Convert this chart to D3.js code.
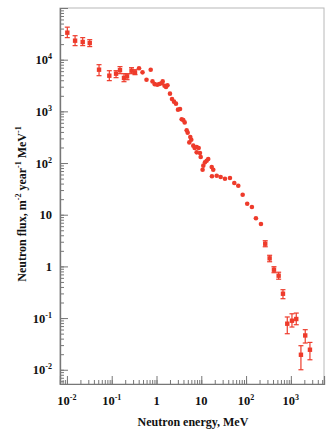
<!DOCTYPE html>
<html>
<head>
<meta charset="utf-8">
<script src="https://cdn.jsdelivr.net/npm/d3@7"></script>
<style>
  html, body { margin: 0; padding: 0; background: #fff; }
  svg { display: block; }
  text { font-family: "Liberation Serif", "Times New Roman", serif; font-weight: bold; fill: #111; }
</style>
</head>
<body>
<svg id="chart" width="332" height="436"></svg>
<script>
// ---- data ----
const energy = [0.0102, 0.0152, 0.0225, 0.0323, 0.0521, 0.0884, 0.125, 0.153, 0.188, 0.220, 0.277, 0.331,
  0.407, 0.487, 0.598, 0.742, 0.814, 0.912, 1.04, 1.155, 1.29, 1.375, 1.51, 1.63, 1.76, 2.0, 2.22, 2.46, 2.72,
  3.02, 3.35, 3.65, 3.96, 4.26, 4.72, 4.97, 5.40, 5.68, 5.98, 6.63, 7.12, 7.89, 7.89, 8.75, 9.35, 9.70, 10.7,
  11.1, 12.1, 13.2, 14.3, 17.1, 18.5, 17.3, 22.1, 27.1, 33.8, 43.7, 54.6, 67.0, 84.0, 106, 135, 166, 215,
  268, 336, 420, 534, 667, 832, 1059, 1321, 1680, 2096, 2670];
const flux = [33300, 23300, 22000, 21000, 6400, 4900, 5360, 6270, 4430, 4760, 6120, 5680,
  6840, 5680, 4100, 6400, 3800, 3360, 3280, 3390, 3510, 3800, 3140, 2960, 3210, 2200, 1730, 1540, 1410,
  1080, 1110, 705, 680, 612, 429, 387, 251, 319, 283, 217, 195, 204, 161, 195, 156, 131, 74,
  89, 103, 111, 120, 84, 74, 55.6, 56.9, 53.7, 49.8, 51.3, 41.1, 36.4, 24.4, 16.3, 14.1, 8.55, 6.6,
  2.75, 1.43, 0.863, 0.661, 0.296, 0.0778, 0.0889, 0.0959, 0.0195, 0.0461, 0.0244];
const fluxHigh = [42600, 29100, 26700, 24400, 8000, 6120, 6120, 7330, 5360, 5360, 7000, 6400,
  null, null, null, null, null, null, null, null, null, null, null, null, null, null, null, null, null,
  null, null, null, null, null, null, null, null, null, null, null, null, null, null, null, null, null, null,
  null, null, null, null, null, null, null, null, null, null, null, null, null, null, null, null, null, null,
  3.14, 1.64, 0.986, 0.771, 0.354, 0.105, 0.121, 0.125, 0.0292, 0.0596, 0.0338];
const fluxLow = [26700, 18700, 18700, 17900, 4900, 3930, 4490, 5360, 3750, 4100, 5360, 5130,
  null, null, null, null, null, null, null, null, null, null, null, null, null, null, null, null, null,
  null, null, null, null, null, null, null, null, null, null, null, null, null, null, null, null, null, null,
  null, null, null, null, null, null, null, null, null, null, null, null, null, null, null, null, null, null,
  2.40, 1.23, 0.755, 0.565, 0.237, 0.0498, 0.0671, 0.0743, 0.0100, 0.0329, 0.0156];

const xTickValues = [0.01, 0.1, 1, 10, 100, 1000];
const xTickBase = ["10", "10", "1", "10", "10", "10"];
const xTickExp = ["-2", "-1", "", "", "2", "3"];
const yTickValues = [0.01, 0.1, 1, 10, 100, 1000, 10000];
const yTickBase = ["10", "10", "1", "10", "10", "10", "10"];
const yTickExp = ["-2", "-1", "", "", "2", "3", "4"];
const xTitle = "Neutron energy, MeV";

(function () {
// ---- layout ----
const pL = 60, pR = 324, pT = 8, pB = 384;
const red = "#ee3b2b";
const svg = d3.select("#chart");

const x = d3.scaleLog().domain([0.007, 5500]).range([pL, pR]);
const y = d3.scaleLog().domain([0.0053, 1e5]).range([pB, pT]);

// frame
svg.append("rect").attr("x", pL).attr("y", pT).attr("width", pR - pL).attr("height", pB - pT)
  .attr("fill", "none").attr("stroke", "#b8b8b8").attr("stroke-width", 1);

function minorTicks(scale) {
  const [a, b] = scale.domain();
  const out = [];
  for (let e = Math.floor(Math.log10(a)); e <= Math.ceil(Math.log10(b)); e++) {
    for (let m = 1; m <= 9; m++) {
      const v = m * Math.pow(10, e);
      if (v >= a && v <= b) out.push(v);
    }
  }
  return out;
}

// axes with inward ticks
svg.append("g").attr("transform", `translate(${pL},0)`)
  .call(d3.axisLeft(y).tickValues(minorTicks(y)).tickSize(-4).tickFormat(""));
svg.append("g").attr("transform", `translate(${pL},0)`)
  .call(d3.axisLeft(y).tickValues(yTickValues.concat([1e5])).tickSize(-8).tickFormat(""));
svg.append("g").attr("transform", `translate(0,${pB})`)
  .call(d3.axisBottom(x).tickValues(minorTicks(x)).tickSize(-4).tickFormat(""));
svg.append("g").attr("transform", `translate(0,${pB})`)
  .call(d3.axisBottom(x).tickValues(xTickValues).tickSize(-8).tickFormat(""));
svg.selectAll("g .domain").attr("stroke", "#777").attr("stroke-width", 1.2);
svg.selectAll("g .tick line").attr("stroke", "#777").attr("stroke-width", 1);

// tick labels with superscripts
function addLabel(sel, base, exp) {
  sel.append("tspan").text(base);
  if (exp) sel.append("tspan").attr("font-size", 8).attr("dy", -5).text(exp);
}
yTickValues.forEach((v, i) => {
  const t = svg.append("text").attr("x", 52).attr("y", y(v) + 4.5)
    .attr("text-anchor", "end").attr("font-size", 12.5);
  addLabel(t, yTickBase[i], yTickExp[i]);
});
xTickValues.forEach((v, i) => {
  const t = svg.append("text").attr("x", x(v)).attr("y", 405)
    .attr("text-anchor", "middle").attr("font-size", 12.5);
  addLabel(t, xTickBase[i], xTickExp[i]);
});

// axis titles
svg.append("text").attr("x", 193).attr("y", 426).attr("text-anchor", "middle")
  .attr("font-size", 12).text(xTitle);
const yt = svg.append("text").attr("transform", "translate(26,204) rotate(-90)")
  .attr("text-anchor", "middle").attr("font-size", 12);
yt.append("tspan").text("Neutron flux, m");
yt.append("tspan").attr("font-size", 8).attr("dy", -5).text("-2");
yt.append("tspan").attr("dy", 5).text(" year");
yt.append("tspan").attr("font-size", 8).attr("dy", -5).text("-1");
yt.append("tspan").attr("dy", 5).text(" MeV");
yt.append("tspan").attr("font-size", 8).attr("dy", -5).text("-1");

// data
const pts = energy.map((e, i) => ({ e, f: flux[i], hi: fluxHigh[i], lo: fluxLow[i] }));
const withErr = pts.filter(d => d.hi != null);
const g = svg.append("g");
g.selectAll("line.err").data(withErr).join("line").attr("class", "err")
  .attr("x1", d => x(d.e)).attr("x2", d => x(d.e))
  .attr("y1", d => y(d.hi)).attr("y2", d => y(d.lo))
  .attr("stroke", red).attr("stroke-width", 1.2);
["hi", "lo"].forEach(k => {
  g.selectAll("line.cap" + k).data(withErr).join("line").attr("class", "cap" + k)
    .attr("x1", d => x(d.e) - 2.5).attr("x2", d => x(d.e) + 2.5)
    .attr("y1", d => y(d[k])).attr("y2", d => y(d[k]))
    .attr("stroke", red).attr("stroke-width", 1.2);
});
g.selectAll("rect.pt").data(withErr).join("rect").attr("class", "pt")
  .attr("x", d => x(d.e) - 2.2).attr("y", d => y(d.f) - 2.2)
  .attr("width", 4.4).attr("height", 4.4).attr("fill", red);
g.selectAll("circle.pt").data(pts.filter(d => d.hi == null)).join("circle").attr("class", "pt")
  .attr("cx", d => x(d.e)).attr("cy", d => y(d.f)).attr("r", 2.3).attr("fill", red);
})();
</script>
</body>
</html>
